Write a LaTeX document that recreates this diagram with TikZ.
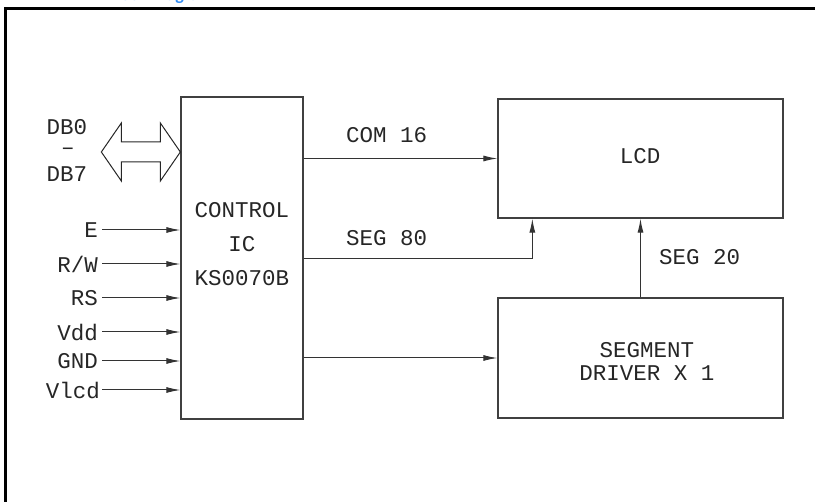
\documentclass[tikz,border=0pt]{standalone}
\usepackage{fontspec}
\newfontfamily\cadfont{Liberation Mono}
\newfontfamily\headfont{Carlito}
\usetikzlibrary{arrows.meta,positioning}
\definecolor{headblue}{RGB}{51,141,245}
\tikzset{
  blk/.style={draw=black!75,line width=1.3pt,inner sep=0pt},
  sig/.style={draw=black!80,line width=1pt,-{Latex[length=14pt,width=6pt]}},
  lbl/.style={font=\cadfont\fontsize{22.5}{34}\selectfont,text=black!85,inner sep=0pt},
}

\begin{document}
\begin{tikzpicture}[x=1pt,y=-1pt]
    \useasboundingbox (0,0) rectangle (815,502);
    \node[anchor=base west,inner sep=0pt,text=headblue,font=\headfont\bfseries\fontsize{18}{20}\selectfont] (head) at (106,1) {Block Diagram};
    \draw[line width=3pt] (815,9) -- (5,9) -- (5,502);
    % blocks
    \node[blk,minimum width=122pt,minimum height=322pt] (ctrl) at (242,258) {};
    \node[blk,minimum width=285pt,minimum height=119pt] (lcd) at (640.5,158.5) {};
    \node[blk,minimum width=285pt,minimum height=120pt] (drv) at (640.5,358) {};
    \node[lbl,align=center] (ctrltxt) at (242,244) {CONTROL\\IC\\KS0070B};
    \node[lbl] (lcdtxt) at (640,156) {LCD};
    \node[lbl,align=center,font=\cadfont\fontsize{22.5}{23}\selectfont] (drvtxt) at (647,361) {SEGMENT\\DRIVER X 1};
    % data bus
    \node[lbl] (db0) at (67,127) {DB0};
    \node[lbl,anchor=base] (dbdash) at (68,155) {\textendash};
    \node[lbl] (db7) at (67,174) {DB7};
    \draw[line width=1pt,draw=black!85] (ctrl.west |- 0,152) -- ++(-20,-29) -- ++(0,19) -- ++(-39,0) -- ++(0,-19) -- ++(-20,29)
        -- ++(20,29) -- ++(0,-19) -- ++(39,0) -- ++(0,19) -- cycle;
    % input pins
    \node[lbl,anchor=east] (pinE) at (98,230) {E};
    \node[lbl,anchor=east] (pinRW) at (98,264) {R/W};
    \node[lbl,anchor=east] (pinRS) at (98,298) {RS};
    \node[lbl,anchor=east] (pinVdd) at (98,332) {Vdd};
    \node[lbl,anchor=east] (pinGND) at (98,361) {GND};
    \node[lbl,anchor=east] (pinVlcd) at (100,390) {Vlcd};
    \draw[sig] ([xshift=4pt]pinE.east) -- (ctrl.west |- pinE);
    \draw[sig] ([xshift=4pt]pinRW.east) -- (ctrl.west |- pinRW);
    \draw[sig] ([xshift=4pt]pinRS.east) -- (ctrl.west |- pinRS);
    \draw[sig] ([xshift=4pt]pinVdd.east) -- (ctrl.west |- pinVdd);
    \draw[sig] ([xshift=4pt]pinGND.east) -- (ctrl.west |- pinGND);
    \draw[sig] ([xshift=2pt]pinVlcd.east) -- (ctrl.west |- pinVlcd);
    % outputs
    \draw[sig] (ctrl.east |- lcd.west) -- (lcd.west);
    \draw[sig] (ctrl.east |- 0,259) -| ([xshift=35pt]lcd.south west);
    \draw[sig] (ctrl.east |- drv.west) -- (drv.west);
    \draw[sig] (drv.north) -- (lcd.south);
    \node[lbl,anchor=west] (com) at (346,135) {COM 16};
    \node[lbl,anchor=west] (seg80) at (346,238) {SEG 80};
    \node[lbl,anchor=west] (seg20) at (659,257) {SEG 20};
\end{tikzpicture}
\end{document}
